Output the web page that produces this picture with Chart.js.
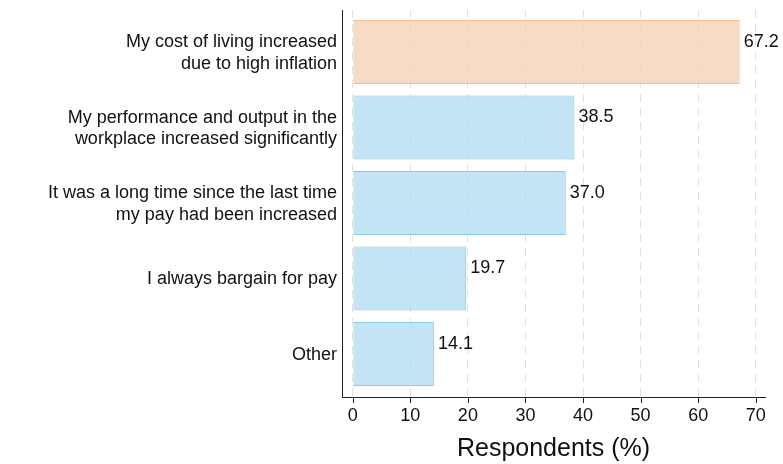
<!DOCTYPE html>
<html>
<head>
<meta charset="utf-8">
<script src="https://cdn.jsdelivr.net/npm/chart.js@4"></script>
<style>
  html, body { margin: 0; padding: 0; background: #fff; }
  #wrap { width: 783px; height: 464px; }
</style>
</head>
<body>
<div id="wrap"><canvas id="reasonChart" width="783" height="464"></canvas></div>
<script>
// Reasons for asking a pay rise
const categories = [
    ['My cost of living increased', 'due to high inflation'],
    ['My performance and output in the', 'workplace increased significantly'],
    ['It was a long time since the last time', 'my pay had been increased'],
    'I always bargain for pay',
    'Other'
];
const values = [67.2, 38.5, 37.0, 19.7, 14.1];
const xTicks = [0, 10, 20, 30, 40, 50, 60, 70];

const fillColors = ['rgba(245,210,181,0.8)', 'rgba(180,221,241,0.8)', 'rgba(180,221,241,0.8)', 'rgba(180,221,241,0.8)', 'rgba(180,221,241,0.8)'];
const lineColors = ['rgba(243,192,152,1)', 'rgba(142,202,234,1)', 'rgba(142,202,234,1)', 'rgba(142,202,234,1)', 'rgba(142,202,234,1)'];

const font = 'Liberation Sans, Arial, sans-serif';

// value labels + x tick marks
const extras = {
    id: 'extras',
    afterDatasetsDraw(chart) {
        const ctx = chart.ctx;
        const meta = chart.getDatasetMeta(0);
        ctx.save();
        ctx.fillStyle = '#111';
        ctx.font = '18px ' + font;
        ctx.textAlign = 'left';
        ctx.textBaseline = 'middle';
        meta.data.forEach((bar, i) => {
            ctx.fillText(values[i].toFixed(1), bar.x + 4, bar.y - 10);
        });
        const xs = chart.scales.x;
        ctx.strokeStyle = '#222';
        ctx.lineWidth = 1;
        xTicks.forEach(t => {
            const px = Math.round(xs.getPixelForValue(t)) + 0.5;
            ctx.beginPath();
            ctx.moveTo(px, xs.top);
            ctx.lineTo(px, xs.top + 6);
            ctx.stroke();
        });
        ctx.restore();
    }
};

new Chart(document.getElementById('reasonChart'), {
    type: 'bar',
    data: {
        datasets: [{
            data: values.map((v, i) => ({ x: v, y: i })),
            backgroundColor: fillColors,
            borderColor: lineColors,
            borderWidth: 1,
            barPercentage: 1,
            categoryPercentage: 0.85
        }]
    },
    options: {
        indexAxis: 'y',
        responsive: false,
        animation: false,
        layout: { padding: { top: 10, right: 18, left: 0, bottom: 0 } },
        plugins: {
            legend: { display: false },
            tooltip: { enabled: false }
        },
        scales: {
            x: {
                type: 'linear',
                min: -1.86,
                max: 71.6,
                afterBuildTicks: s => { s.ticks = xTicks.map(v => ({ value: v })); },
                afterFit: s => { s.height = 67; s.paddingLeft = 0; s.paddingRight = 0; },
                grid: {
                    color: 'rgba(225,225,225,1)',
                    lineWidth: 1,
                    drawTicks: false
                },
                border: { color: '#222', width: 1, dash: [8, 6] },
                ticks: {
                    color: '#111',
                    font: { size: 18, family: font },
                    padding: 8,
                    maxRotation: 0
                },
                title: {
                    display: true,
                    text: 'Respondents (%)',
                    color: '#111',
                    font: { size: 25, family: font },
                    padding: { top: 0, bottom: 0 }
                }
            },
            y: {
                type: 'linear',
                reverse: true,
                offset: false,
                min: -0.556,
                max: 4.57,
                afterBuildTicks: s => { s.ticks = categories.map((c, i) => ({ value: i })); },
                afterFit: s => { s.width = 342; s.paddingTop = 0; s.paddingBottom = 0; },
                grid: { display: false, drawTicks: false, offset: false },
                border: { color: '#222', width: 1 },
                ticks: {
                    color: '#111',
                    font: { size: 18, family: font, lineHeight: 1.2 },
                    padding: 5,
                    labelOffset: 1,
                    callback: v => categories[v]
                }
            }
        }
    },
    plugins: [extras]
});
</script>
</body>
</html>
